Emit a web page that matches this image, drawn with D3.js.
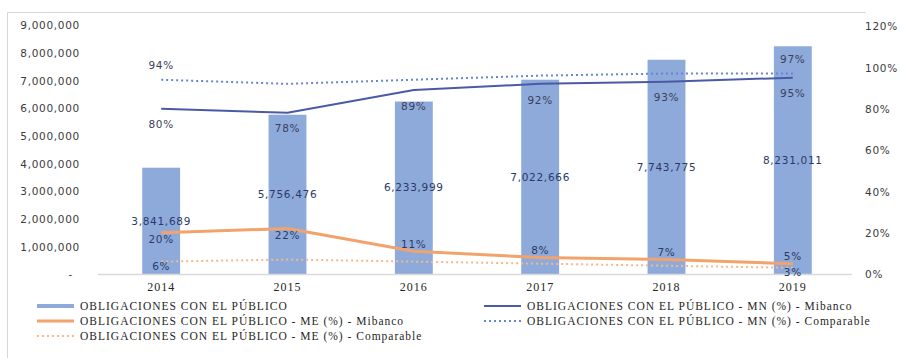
<!DOCTYPE html>
<html>
<head>
<meta charset="utf-8">
<script src="https://cdn.jsdelivr.net/npm/d3@7"></script>
<style>
  html, body { margin: 0; padding: 0; background: #fff; }
  svg { display: block; }
  .num { font-family: "DejaVu Sans", Verdana, sans-serif; font-size: 10.5px; letter-spacing: 0.7px; fill: #3b3b3b; }
  .serif { font-family: "Liberation Serif", "Times New Roman", serif; fill: #262626; }
</style>
</head>
<body>
<svg id="chart" width="902" height="358"></svg>
<script>
// Categories and series
const years = ["2014", "2015", "2016", "2017", "2018", "2019"];
const obligaciones = [3841689, 5756476, 6233999, 7022666, 7743775, 8231011];
const mnMibanco = [80, 78, 89, 92, 93, 95];
const mnComparable = [94, 92, 94, 96, 97, 97];
const meMibanco = [20, 22, 11, 8, 7, 5];
const meComparable = [6, 7, 6, 5, 4, 3];
// Only the first and last points of the comparable series carry labels
const comparableLabelIdx = [0, 5];

// Axis ticks
const leftTicks = [0, 1000000, 2000000, 3000000, 4000000, 5000000, 6000000, 7000000, 8000000, 9000000];
const rightTicks = [0, 20, 40, 60, 80, 100, 120];

// Legend entries
const legendItems = [
  { label: "OBLIGACIONES CON EL PÚBLICO", key: "bar" },
  { label: "OBLIGACIONES CON EL PÚBLICO - ME (%) - Mibanco", key: "meMib" },
  { label: "OBLIGACIONES CON EL PÚBLICO - ME (%) - Comparable", key: "meComp" },
  { label: "OBLIGACIONES CON EL PÚBLICO - MN (%) - Mibanco", key: "mnMib" },
  { label: "OBLIGACIONES CON EL PÚBLICO - MN (%) - Comparable", key: "mnComp" }
];

const styles = {
  bar:    { color: "#8eaadb", width: 4, dash: null },
  mnMib:  { color: "#4a5aa6", width: 2, dash: null },
  mnComp: { color: "#6585d6", width: 2, dash: "2,3" },
  meMib:  { color: "#f2a36c", width: 3, dash: null },
  meComp: { color: "#f6b88c", width: 2, dash: "2,3" }
};

const svg = d3.select("#chart");

const plot = { left: 98, right: 856, top: 25, bottom: 274 };

const x = d3.scaleBand()
  .domain(years)
  .range([plot.left, plot.right])
  .paddingInner(0.7)
  .paddingOuter(0.35);
const cx = d => x(d) + x.bandwidth() / 2;

const yL = d3.scaleLinear().domain([0, 9000000]).range([plot.bottom, plot.top]);
const yR = d3.scaleLinear().domain([0, 120]).range([plot.bottom, plot.top + 1]);

// Chart frame (left and top edges)
svg.append("path")
  .attr("d", "M7.5,358 V12.5 H866")
  .attr("fill", "none")
  .attr("stroke", "#d6d6d6")
  .attr("stroke-width", 1);

// Left axis
const fmt = d3.format(",");
const leftAxis = svg.append("g")
  .attr("transform", `translate(${plot.left},0)`)
  .call(d3.axisLeft(yL).tickValues(leftTicks)
    .tickFormat(d => d === 0 ? "-" : fmt(d))
    .tickSize(0).tickPadding(18));
leftAxis.select(".domain").remove();
leftAxis.selectAll("text")
  .attr("class", "num")
  .attr("dx", d => d === 0 ? -7 : 0)
  .attr("dy", "0.35em")
  .style("font-size", null);
leftAxis.attr("font-family", null).attr("font-size", null);

// Right axis
const rightAxis = svg.append("g")
  .attr("transform", `translate(${plot.right},0)`)
  .call(d3.axisRight(yR).tickValues(rightTicks)
    .tickFormat(d => d + "%")
    .tickSize(0).tickPadding(9));
rightAxis.select(".domain").remove();
rightAxis.selectAll("text").attr("class", "num").attr("dy", "0.35em");
rightAxis.attr("font-family", null).attr("font-size", null);

// Bars
svg.append("g").selectAll("rect")
  .data(obligaciones)
  .join("rect")
  .attr("x", (d, i) => x(years[i]))
  .attr("width", x.bandwidth())
  .attr("y", d => yL(d))
  .attr("height", d => yL(0) - yL(d))
  .attr("fill", styles.bar.color);

// Category axis baseline
svg.append("line")
  .attr("x1", plot.left).attr("x2", plot.right - 4)
  .attr("y1", plot.bottom + 0.5).attr("y2", plot.bottom + 0.5)
  .attr("stroke", "#d9d9d9")
  .attr("stroke-width", 1.5);

// Category labels
svg.append("g").selectAll("text")
  .data(years)
  .join("text")
  .attr("class", "serif")
  .attr("x", d => cx(d))
  .attr("y", 287)
  .attr("dy", "0.35em")
  .attr("text-anchor", "middle")
  .style("font-size", "12px")
  .style("letter-spacing", "1px")
  .text(d => d);

// Percentage lines
const line = d3.line().x((d, i) => cx(years[i])).y(d => yR(d));
const series = [
  { key: "meComp", values: meComparable },
  { key: "mnComp", values: mnComparable },
  { key: "meMib", values: meMibanco },
  { key: "mnMib", values: mnMibanco }
];
svg.append("g").selectAll("path")
  .data(series)
  .join("path")
  .attr("d", s => line(s.values))
  .attr("fill", "none")
  .attr("stroke", s => styles[s.key].color)
  .attr("stroke-width", s => styles[s.key].width)
  .attr("stroke-dasharray", s => styles[s.key].dash)
  .attr("stroke-linejoin", "round");

// Data labels
const labels = svg.append("g");
const addLabels = (values, yFn, idx, cls, color) => {
  labels.selectAll(null)
    .data(idx || values.map((v, i) => i))
    .join("text")
    .attr("class", "num")
    .attr("x", i => cx(years[i]))
    .attr("y", i => yFn(values[i]))
    .attr("dy", "0.35em")
    .attr("text-anchor", "middle")
    .style("fill", color)
    .text(i => cls === "money" ? fmt(values[i]) : values[i] + "%");
};
addLabels(obligaciones, v => (yL(v) + yL(0)) / 2, null, "money", "#2a3a66");
addLabels(mnMibanco, v => yR(v) + 16, null, "pct", "#3a3f5c");
addLabels(mnComparable, v => yR(v) - 14, comparableLabelIdx, "pct", "#3a3f5c");
addLabels(meMibanco, v => v >= 15 ? yR(v) + 7 : yR(v) - 7, null, "pct", "#2a3a66");
addLabels(meComparable, v => yR(v) + 5, comparableLabelIdx, "pct", "#2a3a66");

// Legend
const legendPos = [
  { x: 37, y: 306 }, { x: 37, y: 321 }, { x: 37, y: 336 },
  { x: 484, y: 306 }, { x: 484, y: 321 }
];
const legend = svg.append("g").selectAll("g")
  .data(legendItems)
  .join("g")
  .attr("transform", (d, i) => `translate(${legendPos[i].x},${legendPos[i].y})`);
legend.append("line")
  .attr("x1", 0).attr("x2", 37)
  .attr("stroke", d => styles[d.key].color)
  .attr("stroke-width", d => d.key === "bar" ? 4 : (d.key === "meMib" ? 3 : 2))
  .attr("stroke-dasharray", d => styles[d.key].dash);
legend.append("text")
  .attr("class", "serif")
  .attr("x", 43)
  .attr("dy", "0.35em")
  .style("font-size", "11.5px")
  .style("letter-spacing", "1px")
  .text(d => d.label);
</script>
</body>
</html>
